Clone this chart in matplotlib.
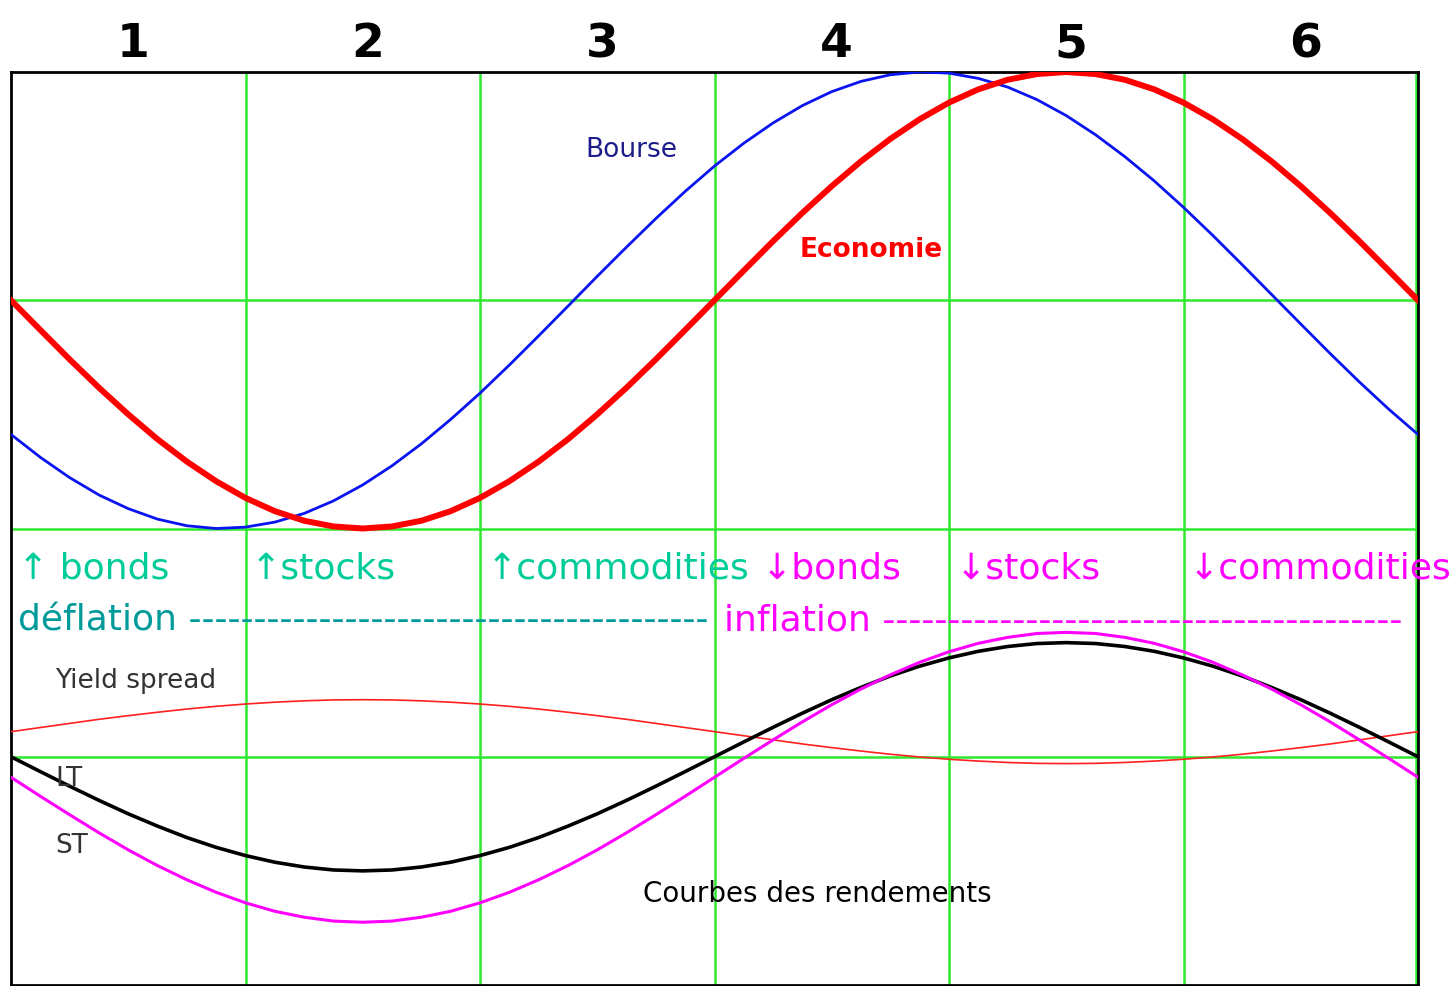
import numpy as np
import matplotlib
matplotlib.use("Agg")
import matplotlib.pyplot as plt

# phase positions (one unit = one column of the grid), read every 1/8 column
x = [0.000, 0.125, 0.250, 0.375, 0.500, 0.625, 0.750, 0.875, 1.000, 1.125, 1.250, 1.375,
     1.500, 1.625, 1.750, 1.875, 2.000, 2.125, 2.250, 2.375, 2.500, 2.625, 2.750, 2.875,
     3.000, 3.125, 3.250, 3.375, 3.500, 3.625, 3.750, 3.875, 4.000, 4.125, 4.250, 4.375,
     4.500, 4.625, 4.750, 4.875, 5.000, 5.125, 5.250, 5.375, 5.500, 5.625, 5.750, 5.875,
     6.000]

economie = [3.000, 2.870, 2.741, 2.617, 2.500, 2.391, 2.293, 2.207, 2.134, 2.076, 2.034, 2.009,
            2.000, 2.009, 2.034, 2.076, 2.134, 2.207, 2.293, 2.391, 2.500, 2.617, 2.741, 2.870,
            3.000, 3.130, 3.259, 3.383, 3.500, 3.609, 3.707, 3.793, 3.866, 3.924, 3.966, 3.991,
            4.000, 3.991, 3.966, 3.924, 3.866, 3.793, 3.707, 3.609, 3.500, 3.383, 3.259, 3.130,
            3.000]
bourse = [2.412, 2.312, 2.223, 2.147, 2.087, 2.041, 2.012, 2.000, 2.006, 2.028, 2.066, 2.121,
          2.191, 2.275, 2.371, 2.478, 2.593, 2.716, 2.844, 2.974, 3.105, 3.233, 3.358, 3.477,
          3.588, 3.688, 3.777, 3.853, 3.914, 3.959, 3.988, 4.000, 3.995, 3.972, 3.934, 3.879,
          3.809, 3.725, 3.629, 3.523, 3.407, 3.284, 3.156, 3.026, 2.896, 2.767, 2.642, 2.523,
          2.412]
yield_spread = [1.110, 1.128, 1.146, 1.164, 1.180, 1.195, 1.209, 1.221, 1.231, 1.239, 1.245,
                1.249, 1.250, 1.249, 1.245, 1.239, 1.231, 1.221, 1.209, 1.195, 1.180, 1.164,
                1.146, 1.128, 1.110, 1.092, 1.074, 1.056, 1.040, 1.025, 1.011, 0.999, 0.989,
                0.981, 0.975, 0.971, 0.970, 0.971, 0.975, 0.981, 0.989, 0.999, 1.011, 1.025,
                1.040, 1.056, 1.074, 1.092, 1.110]
lt = [1.000, 0.935, 0.871, 0.809, 0.750, 0.696, 0.646, 0.603, 0.567, 0.538, 0.517, 0.504,
      0.500, 0.504, 0.517, 0.538, 0.567, 0.603, 0.646, 0.696, 0.750, 0.809, 0.871, 0.935,
      1.000, 1.065, 1.129, 1.191, 1.250, 1.304, 1.354, 1.397, 1.433, 1.462, 1.483, 1.496,
      1.500, 1.496, 1.483, 1.462, 1.433, 1.397, 1.354, 1.304, 1.250, 1.191, 1.129, 1.065,
      1.000]
st = [0.910, 0.827, 0.746, 0.667, 0.592, 0.523, 0.461, 0.406, 0.360, 0.323, 0.297, 0.280,
      0.275, 0.280, 0.297, 0.323, 0.360, 0.406, 0.461, 0.523, 0.592, 0.667, 0.746, 0.827,
      0.910, 0.993, 1.074, 1.153, 1.228, 1.297, 1.359, 1.414, 1.460, 1.497, 1.523, 1.540,
      1.545, 1.540, 1.523, 1.497, 1.460, 1.414, 1.359, 1.297, 1.228, 1.153, 1.074, 0.993,
      0.910]

phases = ["1", "2", "3", "4", "5", "6"]
up_labels = ["\u2191 bonds", "\u2191stocks", "\u2191commodities"]
down_labels = ["\u2193bonds", "\u2193stocks", "\u2193commodities"]

GREEN = "#2ee82e"
TEAL_LIGHT = "#00cc99"
TEAL = "#009a9a"
MAGENTA = "#ff00ff"

fig = plt.figure(figsize=(14.56, 9.86), dpi=100)
fig.patch.set_facecolor("white")
ax = fig.add_axes([11 / 1456, 1 / 986, 1407 / 1456, 913 / 986])
ax.set_xlim(0, 6)
ax.set_ylim(0, 4)
ax.set_xticks([])
ax.set_yticks([])
for s in ax.spines.values():
    s.set_linewidth(2)
    s.set_color("black")

# grid
for gx in range(1, 7):
    ax.axvline(gx - 0.008 if gx == 6 else gx, color=GREEN, lw=1.8, zorder=1)
for gy in range(1, 4):
    ax.axhline(gy, color=GREEN, lw=1.8, zorder=1)

ax.plot(x, yield_spread, color="#ff2020", lw=1.2, zorder=3)
ax.plot(x, lt, color="black", lw=2.6, zorder=3)
ax.plot(x, st, color=MAGENTA, lw=2.2, zorder=4)
ax.plot(x, bourse, color="#0a14f0", lw=2.0, zorder=3)
ax.plot(x, economie, color="#ff0000", lw=4.3, zorder=4)

# phase numbers on top
for i, p in enumerate(phases):
    ax.text(i + 0.52, 4.065, p, ha="center", va="baseline", fontsize=34,
            fontweight="bold", color="black", clip_on=False)

# asset labels
for xp, lab in zip([0.03, 1.02, 2.03], up_labels):
    ax.text(xp, 1.783, lab, color=TEAL_LIGHT, fontsize=26, va="baseline", zorder=5)
for xp, lab in zip([3.20, 4.03, 5.02], down_labels):
    ax.text(xp, 1.783, lab, color=MAGENTA, fontsize=26, va="baseline", zorder=5,
            clip_on=False)

ax.text(0.03, 1.555, "d\u00e9flation " + "-" * 40, color=TEAL, fontsize=26, va="baseline")
ax.text(3.04, 1.555, "inflation " + "-" * 40, color=MAGENTA, fontsize=26, va="baseline")

ax.text(2.448, 3.628, "Bourse", color="#1c1c8c", fontsize=19, va="baseline")
ax.text(3.365, 3.19, "Economie", color="#ff0000", fontsize=19, fontweight="bold", va="baseline")
ax.text(0.188, 1.30, "Yield spread", color="#333333", fontsize=19, va="baseline")
ax.text(0.188, 0.872, "LT", color="#333333", fontsize=19, va="baseline")
ax.text(0.188, 0.578, "ST", color="#333333", fontsize=19, va="baseline")
ax.text(2.695, 0.364, "Courbes des rendements", color="black", fontsize=20, va="baseline")

fig.savefig("out.png", dpi=100)
